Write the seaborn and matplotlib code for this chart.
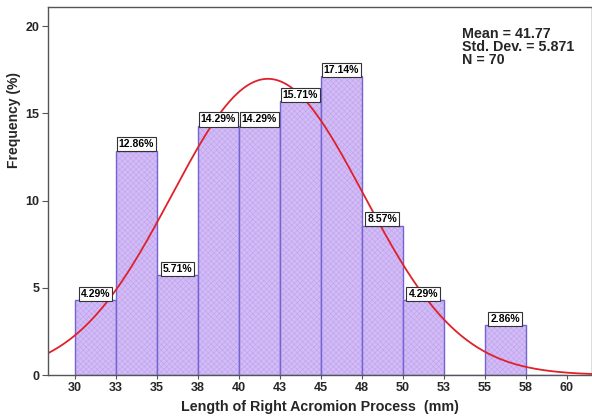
import numpy as np
import pandas as pd
import matplotlib
matplotlib.use("Agg")
import matplotlib.pyplot as plt
from matplotlib.colors import to_rgba
import seaborn as sns

# Histogram bins (mm) and percentage of cases in each bin
bin_edges = [30.0, 32.5, 35.0, 37.5, 40.0, 42.5, 45.0, 47.5, 50.0, 52.5, 55.0, 57.5, 60.0]
percents = [4.29, 12.86, 5.71, 14.29, 14.29, 15.71, 17.14, 8.57, 4.29, 0.0, 2.86, 0.0]
tick_labels = ["30", "33", "35", "38", "40", "43", "45", "48", "50", "53", "55", "58", "60"]

mean_val = 41.77
sd_val = 5.871
n_val = 70

sns.set_theme(style="white")
plt.rcParams["font.family"] = ["Liberation Sans", "DejaVu Sans"]
plt.rcParams["hatch.linewidth"] = 0.4

centers = [(a + b) / 2 for a, b in zip(bin_edges[:-1], bin_edges[1:])]
df = pd.DataFrame({"length": centers, "pct": percents})

fig = plt.figure(figsize=(5.92, 4.19), dpi=100)
ax = fig.add_axes([0.081, 0.105, 0.919, 0.878])

sns.histplot(data=df, x="length", weights="pct", bins=bin_edges, ax=ax,
             color="#d3bcf5", edgecolor="#7264d2", linewidth=1.0, alpha=1.0,
             hatch="xxxxxx")

# Fine lilac texture inside the bars
hatch_rgba = to_rgba("#bea2ee")
for patch in ax.patches:
    if hasattr(patch, "set_hatchcolor"):
        patch.set_hatchcolor(hatch_rgba)
    else:
        patch._hatch_color = hatch_rgba

# Value labels in boxes above each non-empty bar
for c, p in zip(centers, percents):
    if p > 0:
        ax.text(c, p + 0.08, f"{p:.2f}%", ha="center", va="bottom",
                fontsize=7.5, fontweight="bold", color="black",
                bbox=dict(boxstyle="square,pad=0.2", facecolor="white",
                          edgecolor="#333333", linewidth=0.8))

# Fitted normal curve scaled to percent per bin
width = bin_edges[1] - bin_edges[0]
xs = np.linspace(28.3, 61.6, 400)
ys = 100 * width * np.exp(-0.5 * ((xs - mean_val) / sd_val) ** 2) / (sd_val * np.sqrt(2 * np.pi))
sns.lineplot(x=xs, y=ys, ax=ax, color="#e0202a", linewidth=1.3)

ax.set_xlim(28.35, 61.55)
ax.set_ylim(0, 21.1)
ax.set_xticks(bin_edges)
ax.set_xticklabels(tick_labels)
ax.set_yticks([0, 5, 10, 15, 20])
ax.tick_params(axis="both", which="both", direction="out", width=0.8,
               labelsize=9, color="#555555", bottom=True, left=True)
ax.tick_params(axis="x", length=3, pad=2)
ax.tick_params(axis="y", length=4, pad=2)
for lab in ax.get_xticklabels() + ax.get_yticklabels():
    lab.set_fontweight("bold")

for side in ["left", "bottom", "top", "right"]:
    ax.spines[side].set_color("#555555")
    ax.spines[side].set_linewidth(1.0)

ax.set_xlabel("Length of Right Acromion Process  (mm)", fontsize=10.3, fontweight="bold")
ax.xaxis.set_label_coords(0.5, -0.068)
ax.set_ylabel("Frequency (%)", fontsize=10, fontweight="bold")
ax.yaxis.set_label_coords(-0.05, 0.693)

ax.text(0.761, 0.945, f"Mean = {mean_val}\nStd. Dev. = {sd_val}\nN = {n_val}",
        transform=ax.transAxes, ha="left", va="top", fontsize=10.3,
        fontweight="bold", linespacing=0.9)

fig.savefig("out.png", dpi=100)
